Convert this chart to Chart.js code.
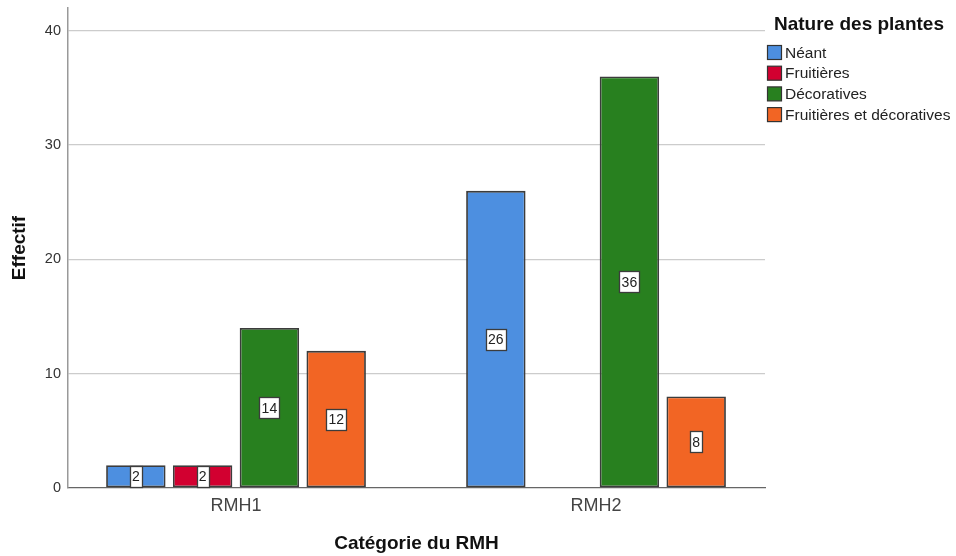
<!DOCTYPE html>
<html><head><meta charset="utf-8">
<script src="https://cdn.jsdelivr.net/npm/chart.js@4"></script>
<style>html,body{margin:0;padding:0;background:#fff}canvas{display:block}</style>
</head><body>
<canvas id="c" width="956" height="556"></canvas>
<script>
const categories = ['RMH1', 'RMH2'];
const seriesNames = ['Néant', 'Fruitières', 'Décoratives', 'Fruitières et décoratives'];
const neant = [2, 26];
const fruitieres = [2, null];
const decoratives = [14, 36];
const fruitDeco = [12, 8];
const yTicks = [0, 10, 20, 30, 40];
const colors = ['#4d8fe0', '#d20030', '#28801f', '#f26524'];

const FONT = '"Liberation Sans", Arial, sans-serif';
const allSeries = [neant, fruitieres, decoratives, fruitDeco];

const datasets = allSeries.map((vals, i) => ({
  label: seriesNames[i],
  data: vals.map((v, j) => ({x: j + 1, y: v})),
  backgroundColor: colors[i],
  borderColor: '#3c3c3c',
  borderWidth: 1.8,
  borderSkipped: false,
  categoryPercentage: 0.742,
  barPercentage: 0.89
}));

const labelPlugin = {
  id: 'valueLabels',
  afterDatasetsDraw(chart) {
    const ctx = chart.ctx;
    ctx.save();
    ctx.font = '14px ' + FONT;
    ctx.textAlign = 'center';
    ctx.textBaseline = 'middle';
    chart.data.datasets.forEach((ds, i) => {
      const meta = chart.getDatasetMeta(i);
      meta.data.forEach((bar, j) => {
        const v = ds.data[j].y;
        if (v === null || v === undefined) return;
        const cx = bar.x;
        const cy = (bar.y + bar.base) / 2;
        const tw = ctx.measureText(String(v)).width;
        const w = Math.round(tw + 4), h = 21;
        const x0 = Math.round(cx - w / 2) + 0.5, y0 = Math.round(cy - h / 2) + 0.5;
        ctx.fillStyle = '#ffffff';
        ctx.fillRect(x0, y0, w, h);
        ctx.strokeStyle = '#3c3c3c';
        ctx.lineWidth = 1.3;
        ctx.strokeRect(x0, y0, w, h);
        ctx.fillStyle = '#222222';
        ctx.fillText(String(v), cx, cy + 1);
      });
    });
    ctx.restore();
  }
};

const legendPlugin = {
  id: 'customLegend',
  afterDraw(chart) {
    const ctx = chart.ctx;
    ctx.save();
    ctx.fillStyle = '#111111';
    ctx.font = 'bold 19px ' + FONT;
    ctx.textAlign = 'left';
    ctx.textBaseline = 'middle';
    ctx.fillText('Nature des plantes', 774, 25);
    ctx.font = '15.5px ' + FONT;
    chart.data.datasets.forEach((ds, i) => {
      const y = 53 + i * 20.7;
      ctx.fillStyle = ds.backgroundColor;
      ctx.fillRect(767.5, y - 7.5, 14, 14);
      ctx.strokeStyle = '#333333';
      ctx.lineWidth = 1.2;
      ctx.strokeRect(767.5, y - 7.5, 14, 14);
      ctx.fillStyle = '#222222';
      ctx.fillText(ds.label, 785, y + 0.5);
    });
    ctx.restore();
  }
};

new Chart(document.getElementById('c'), {
  type: 'bar',
  data: { datasets },
  options: {
    responsive: false,
    animation: false,
    layout: { padding: { left: 0, top: 8, right: 191, bottom: 0 } },
    plugins: { legend: { display: false }, tooltip: { enabled: false } },
    scales: {
      x: {
        type: 'linear',
        min: 0.5333,
        max: 2.4694,
        offset: false,
        afterBuildTicks: s => { s.ticks = categories.map((c, i) => ({ value: i + 1 })); },
        afterFit: s => { s.height = 68; s.paddingLeft = 0; s.paddingRight = 0; },
        ticks: {
          autoSkip: false,
          maxRotation: 0,
          padding: 7,
          color: '#444444',
          font: { family: FONT, size: 18 },
          callback: v => categories[Math.round(v) - 1] || ''
        },
        grid: { display: false, drawTicks: false },
        border: { display: true, color: '#666666', width: 1.3 },
        title: {
          display: true,
          text: 'Catégorie du RMH',
          color: '#111111',
          font: { family: FONT, size: 19, weight: 'bold' },
          padding: { top: 0, bottom: 0.6 }
        }
      },
      y: {
        min: 0,
        max: 42,
        afterBuildTicks: s => { s.ticks = yTicks.map(v => ({ value: v })); },
        afterFit: s => { s.width = 68; s.paddingTop = 0; s.paddingBottom = 0; },
        ticks: {
          padding: 7,
          color: '#333333',
          font: { family: FONT, size: 14.5 }
        },
        grid: {
          color: ctx => ctx.tick && ctx.tick.value === 0 ? 'rgba(0,0,0,0)' : '#cccccc',
          lineWidth: 1.3,
          drawTicks: false
        },
        border: { display: true, color: '#999999', width: 1.5 },
        title: {
          display: true,
          text: 'Effectif',
          color: '#111111',
          font: { family: FONT, size: 19, weight: 'bold' },
          padding: { top: 8.6, bottom: 0 }
        }
      }
    }
  },
  plugins: [labelPlugin, legendPlugin]
});
</script>
</body></html>
